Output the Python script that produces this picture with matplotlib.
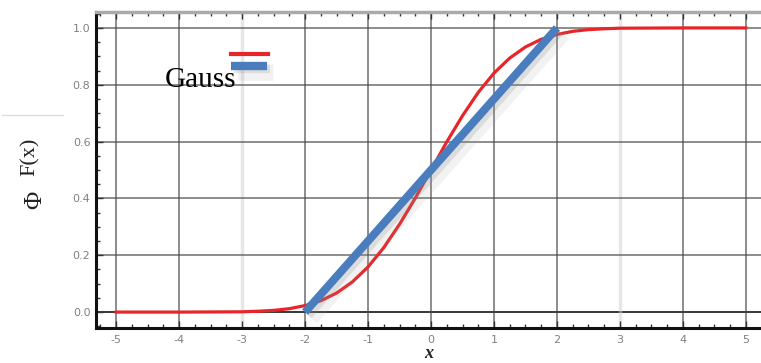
import numpy as np
import matplotlib.pyplot as plt
import matplotlib.patheffects as pe
from matplotlib.lines import Line2D
from matplotlib.ticker import MultipleLocator

# values
gauss_x = [-5, -4, -3, -2.75, -2.5, -2.25, -2, -1.75, -1.5, -1.25, -1, -0.75, -0.5, -0.25,
           0, 0.25, 0.5, 0.75, 1, 1.25, 1.5, 1.75, 2, 2.25, 2.5, 2.75, 3, 4, 5]
gauss_y = [0.0, 0.0, 0.001, 0.003, 0.006, 0.012, 0.023, 0.04, 0.067, 0.106, 0.159, 0.227,
           0.309, 0.401, 0.5, 0.599, 0.691, 0.773, 0.841, 0.894, 0.933, 0.96, 0.977, 0.988,
           0.994, 0.997, 0.999, 1.0, 1.0]
linear_x = [-2, 2]
linear_y = [0.0, 1.0]
x_ticks = [-5, -4, -3, -2, -1, 0, 1, 2, 3, 4, 5]
y_ticks = [0.0, 0.2, 0.4, 0.6, 0.8, 1.0]

W, H = 761, 363
RED = "#e8262a"
BLUE = "#4a7dbd"


def px(x, y):
    # pixel position (from top-left) -> figure fraction
    return x / W, 1 - y / H


fig = plt.figure(figsize=(W / 100, H / 100), dpi=100)
ax = fig.add_axes([96 / W, 35 / H, 1 - 96 / W, (328 - 12) / H])
ax.set_xlim(-5.32, 5.24)
ax.set_ylim(-0.056, 1.056)

ax.set_xticks(x_ticks)
ax.set_xticklabels([f"{t}" for t in x_ticks])
ax.set_yticks(y_ticks)
ax.set_yticklabels([f"{t:.1f}" for t in y_ticks])
ax.xaxis.set_minor_locator(MultipleLocator(0.25))
ax.yaxis.set_minor_locator(MultipleLocator(0.05))
ax.tick_params(axis="both", which="both", direction="in", colors="#333333",
               labelcolor="#808080", labelsize=8)
ax.tick_params(axis="x", which="both", top=True)
ax.tick_params(which="major", length=5, width=1)
ax.tick_params(which="minor", length=3, width=1)
ax.tick_params(axis="x", pad=5)
ax.tick_params(axis="y", pad=4)

ax.grid(True, color="#4a4a4a", linewidth=1.1, alpha=0.8)
for t, gl in zip(x_ticks, ax.get_xgridlines()):
    if abs(t) == 3:
        gl.set_color("#e6e6e6")
        gl.set_linewidth(2.5)
        gl.set_alpha(1)
ax.axhline(0, color="#111111", linewidth=1.3, zorder=1)

for s in ["left", "bottom"]:
    ax.spines[s].set_linewidth(2.2)
    ax.spines[s].set_color("#111111")
ax.spines["top"].set_linewidth(2.5)
ax.spines["top"].set_color("#aaaaaa")
ax.spines["right"].set_visible(False)

# soft drop shadow, two layers to fake a blur
shadow = [pe.SimpleLineShadow(offset=(4, -4), shadow_color="#999999", alpha=0.12,
                              linewidth=12),
          pe.SimpleLineShadow(offset=(2.5, -2.5), shadow_color="#888888", alpha=0.2),
          pe.Normal()]
ax.plot(gauss_x, gauss_y, color=RED, linewidth=2.3, zorder=3)
ax.plot(linear_x, linear_y, color=BLUE, linewidth=5.8, solid_capstyle="butt",
        zorder=4, path_effects=shadow)

ax.set_xlabel("x", fontfamily="Liberation Serif", fontstyle="italic",
              fontweight="bold", fontsize=13, labelpad=0, color="#222222")

# legend drawn as in the picture: two short samples, label left of them
fig.add_artist(Line2D(*zip(px(231, 54), px(268, 54)), color=RED, linewidth=3,
                      transform=fig.transFigure))
fig.add_artist(Line2D(*zip(px(231, 66), px(267, 66)), color=BLUE, linewidth=6,
                      solid_capstyle="butt", transform=fig.transFigure,
                      path_effects=shadow))
fig.text(*px(165, 87), "Gauss", fontfamily="Liberation Serif", fontsize=21,
         ha="left", va="baseline", color="black")

# y label
fig.text(*px(30, 157), "F(x)", fontfamily="Liberation Serif", fontsize=16,
         rotation=90, ha="center", va="center", color="#222222")
fig.text(*px(35, 200), "Φ", fontfamily="Liberation Serif", fontsize=18,
         rotation=90, ha="center", va="center", color="#222222")
fig.add_artist(Line2D(*zip(px(2, 115), px(63, 115)), color="#dddddd", linewidth=1,
                      transform=fig.transFigure))

fig.savefig("out.png", dpi=100)
